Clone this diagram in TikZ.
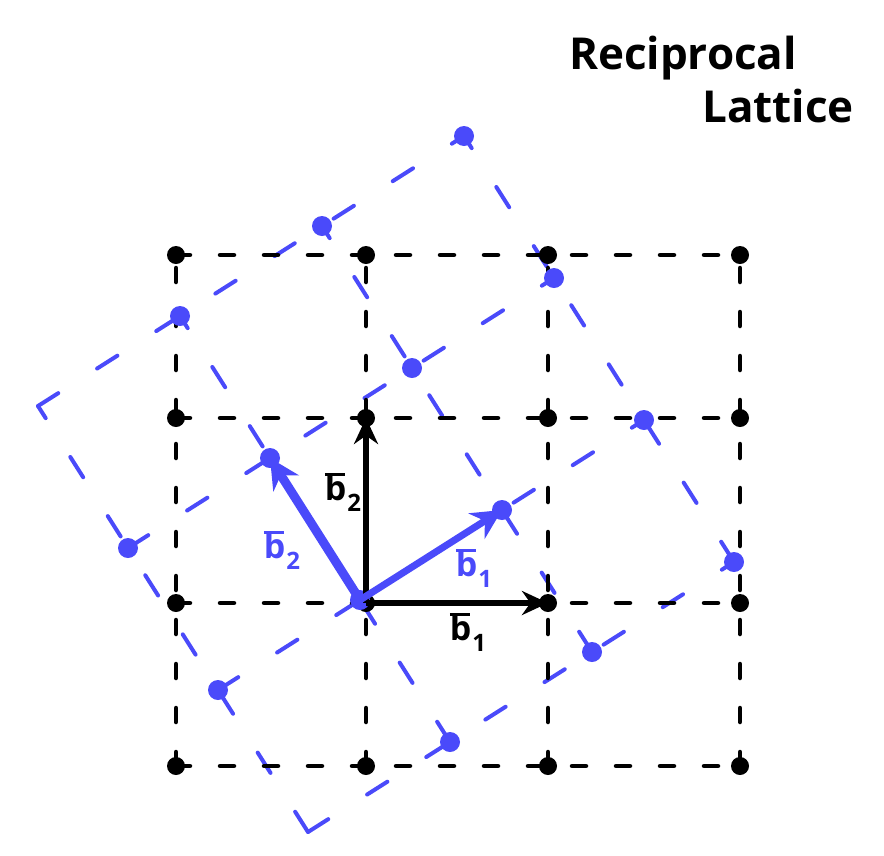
\documentclass[tikz,border=0pt]{standalone}
\usepackage{fontspec}
\newfontfamily\hand{Open Sans}
\usetikzlibrary{arrows.meta}
\definecolor{lblue}{RGB}{74,74,250}
\newcommand\bvecl[1]{\rlap{\raisebox{0.72em}{\rule{0.6em}{0.1em}}}b\kern1pt\raisebox{-0.3em}{\fontsize{24}{24}\selectfont #1}}
\begin{document}
\begin{tikzpicture}[x=1pt,y=-1pt,
  blk/.style={draw=black, line width=4.5pt, dash pattern=on 14pt off 30pt, line cap=round},
  blu/.style={draw=lblue, line width=4pt, dash pattern=on 24pt off 46pt, line cap=round},
  bdot/.style={circle, fill=black, inner sep=0pt, minimum size=18pt},
  udot/.style={circle, fill=lblue, inner sep=0pt, minimum size=20pt},
  karrow/.style={draw=black, line width=6pt, -{Stealth[length=26pt,width=24pt]}},
  uarrow/.style={draw=lblue, -{Stealth[length=30pt,width=30pt]}},
  lab/.style={font=\hand\bfseries\fontsize{34}{36}\selectfont, inner sep=1pt},
  title/.style={font=\hand\bfseries\fontsize{44}{50}\selectfont, inner sep=0pt}]
\useasboundingbox (0,0) rectangle (884,855);
% black lattice points
\foreach \x [count=\i from 0] in {176,366,548,740}
  \foreach \y [count=\j from 0] in {766,603,418,255}
    \coordinate (k\i\j) at (\x,\y);
% blue lattice points
\foreach \a in {0,...,3}
  \foreach \b in {0,...,3}{
    \pgfmathsetmacro\px{360+142*(\a-1)-90*(\b-1)}
    \pgfmathsetmacro\py{600-90*(\a-1)-142*(\b-1)}
    \coordinate (u\a\b) at (\px,\py);
  }
% blue lines
\foreach \a in {0,...,3}{
  \draw[blu] (u\a0) -- (u\a3);
  \draw[blu] (u0\a) -- (u3\a);
}
% black lines
\foreach \a in {0,...,3}{
  \draw[blk] (k\a0) -- (k\a3);
  \draw[blk] (k0\a) -- (k3\a);
}
% black dots
\foreach \a in {0,...,3}
  \foreach \b in {0,...,3}
    \node[bdot] (kd\a\b) at (k\a\b) {};
% blue dots
\foreach \a/\b in {0/1,0/2,1/0,1/1,1/2,1/3,2/0,2/1,2/2,2/3,3/0,3/1,3/2,3/3}
  \node[udot] (ud\a\b) at (u\a\b) {};
% vectors
\draw[karrow] (k11) -- (k21);
\draw[karrow] (k11) -- (k12);
\draw[uarrow, line width=7pt] (u11) -- (u21);
\draw[uarrow, line width=9pt] (u11) -- (u12);
% labels
\node[lab] (la2) at (343,492) {\bvecl{2}};
\node[lab] (la1) at (468,632) {\bvecl{1}};
\node[lab, text=lblue] (lb2) at (282,550) {\bvecl{2}};
\node[lab, text=lblue] (lb1) at (474,568) {\bvecl{1}};
% title
\node[title] (t1) at (683,58) {Reciprocal};
\node[title] (t2) at (778,106) {Lattice};
\end{tikzpicture}
\end{document}
